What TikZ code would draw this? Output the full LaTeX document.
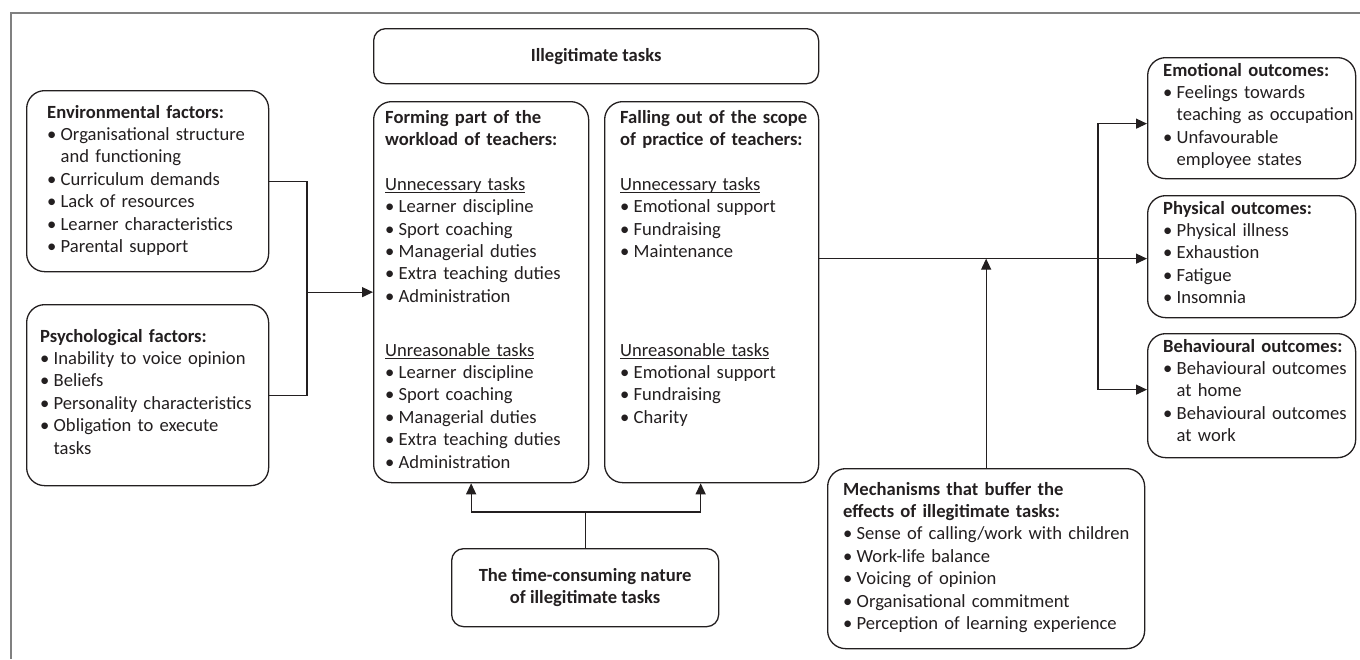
\documentclass[tikz,border=0pt]{standalone}
\usepackage{fontspec}
\setmainfont{Carlito}
\usetikzlibrary{arrows.meta}
\definecolor{ink}{HTML}{231F20}
\definecolor{framegray}{HTML}{808080}
\newcommand\bul{\makebox[13.5pt][l]{\textbullet}}
\newcommand\ind{\hspace*{13.5pt}}
\newsavebox\ulbox
\newcommand\ulx[1]{\leavevmode\sbox\ulbox{#1}\rlap{\rule[-2.6pt]{\wd\ulbox}{0.9pt}}\usebox\ulbox}
\newcommand\fs{\fontsize{18.6pt}{22.4pt}\selectfont}
\begin{document}
\begin{tikzpicture}[x=1pt,y=-1pt,
  box/.style={draw=ink, line width=1.3pt, rounded corners=18pt, inner sep=0pt, anchor=north west},
  txt/.style={anchor=base west, inner sep=0pt, text width=330pt, align=left, font=\fs, text=ink},
  ctxt/.style={font=\fs\bfseries, text=ink, align=center},
  conn/.style={draw=ink, line width=1.3pt},
  arr/.style={conn, -{Triangle[length=11pt,width=10pt]}}]
\useasboundingbox (0,0) rectangle (1360,659);
\draw[framegray, line width=1.2pt] (1360,13) -- (11,13) -- (11,659);

% boxes
\node[box, minimum width=242pt, minimum height=181pt] (env) at (26,90) {};
\node[box, minimum width=242pt, minimum height=181pt] (psych) at (26,304) {};
\node[box, rounded corners=12pt, minimum width=445pt, minimum height=55pt, ctxt] (illeg) at (373,28) {Illegitimate tasks};
\node[box, minimum width=215pt, minimum height=381pt] (forming) at (373,101) {};
\node[box, minimum width=214pt, minimum height=381pt] (falling) at (604,101) {};
\node[box, minimum width=208pt, minimum height=121pt] (emo) at (1147,57) {};
\node[box, minimum width=208pt, minimum height=122pt] (phys) at (1147,195) {};
\node[box, minimum width=208pt, minimum height=124pt] (beh) at (1147,333) {};
\node[box, minimum width=317pt, minimum height=180pt] (mech) at (827,468) {};
\node[box, rounded corners=12pt, minimum width=267pt, minimum height=78pt, ctxt] (time) at (451,548) {The time-consuming nature\\of illegitimate tasks};

% texts
\node[txt] (envt) at (47,118) {\textbf{Environmental factors:}\\
\bul Organisational structure\\
\ind and functioning\\
\bul Curriculum demands\\
\bul Lack of resources\\
\bul Learner characteristics\\
\bul Parental support};

\node[txt] (psyt) at (40,342) {\textbf{Psychological factors:}\\
\bul Inability to voice opinion\\
\bul Beliefs\\
\bul Personality characteristics\\
\bul Obligation to execute\\
\ind tasks};

\node[txt] (fort) at (385,123) {\textbf{Forming part of the}\\
\textbf{workload of teachers:}\\[22.4pt]
\ulx{Unnecessary tasks}\\
\bul Learner discipline\\
\bul Sport coaching\\
\bul Managerial duties\\
\bul Extra teaching duties\\
\bul Administration\\[31.4pt]
\ulx{Unreasonable tasks}\\
\bul Learner discipline\\
\bul Sport coaching\\
\bul Managerial duties\\
\bul Extra teaching duties\\
\bul Administration};

\node[txt] (falt) at (620,123) {\textbf{Falling out of the scope}\\
\textbf{of practice of teachers:}\\[22.4pt]
\ulx{Unnecessary tasks}\\
\bul Emotional support\\
\bul Fundraising\\
\bul Maintenance\\[76.2pt]
\ulx{Unreasonable tasks}\\
\bul Emotional support\\
\bul Fundraising\\
\bul Charity};

\node[txt] (emot) at (1163,76) {\textbf{Emotional outcomes:}\\
\bul Feelings towards\\
\ind teaching as occupation\\
\bul Unfavourable\\
\ind employee states};

\node[txt] (phyt) at (1163,214) {\textbf{Physical outcomes:}\\
\bul Physical illness\\
\bul Exhaustion\\
\bul Fatigue\\
\bul Insomnia};

\node[txt] (beht) at (1163,352) {\textbf{Behavioural outcomes:}\\
\bul Behavioural outcomes\\
\ind at home\\
\bul Behavioural outcomes\\
\ind at work};

\node[txt] (mecht) at (843,495) {\textbf{Mechanisms that buffer the}\\
\textbf{effects of illegitimate tasks:}\\
\bul Sense of calling/work with children\\
\bul Work-life balance\\
\bul Voicing of opinion\\
\bul Organisational commitment\\
\bul Perception of learning experience};

% connectors
\coordinate (jx) at (307,0);
\coordinate (bar) at (0,512);
\coordinate (vx) at (1098,0);
\coordinate (m) at ([yshift=-2pt]phys.west);

\draw[conn] (env.east) -| (jx |- psych.east) -- (psych.east);
\draw[arr] (jx |- forming.west) -- (forming.west);

\draw[conn] (time.north) -- (time.north |- bar);
\draw[arr] (time.north |- bar) -| ([xshift=-10pt]forming.south);
\draw[arr] (time.north |- bar) -| ([xshift=-11pt]falling.south);

\draw[arr] (falling.east |- m) -- (m);
\draw[arr] (vx |- m) |- ([yshift=-5.5pt]emo.west);
\draw[arr] (vx |- m) |- ([yshift=6pt]beh.west);
\draw[arr] (mech.north) -- (mech.north |- m);
\end{tikzpicture}
\end{document}
